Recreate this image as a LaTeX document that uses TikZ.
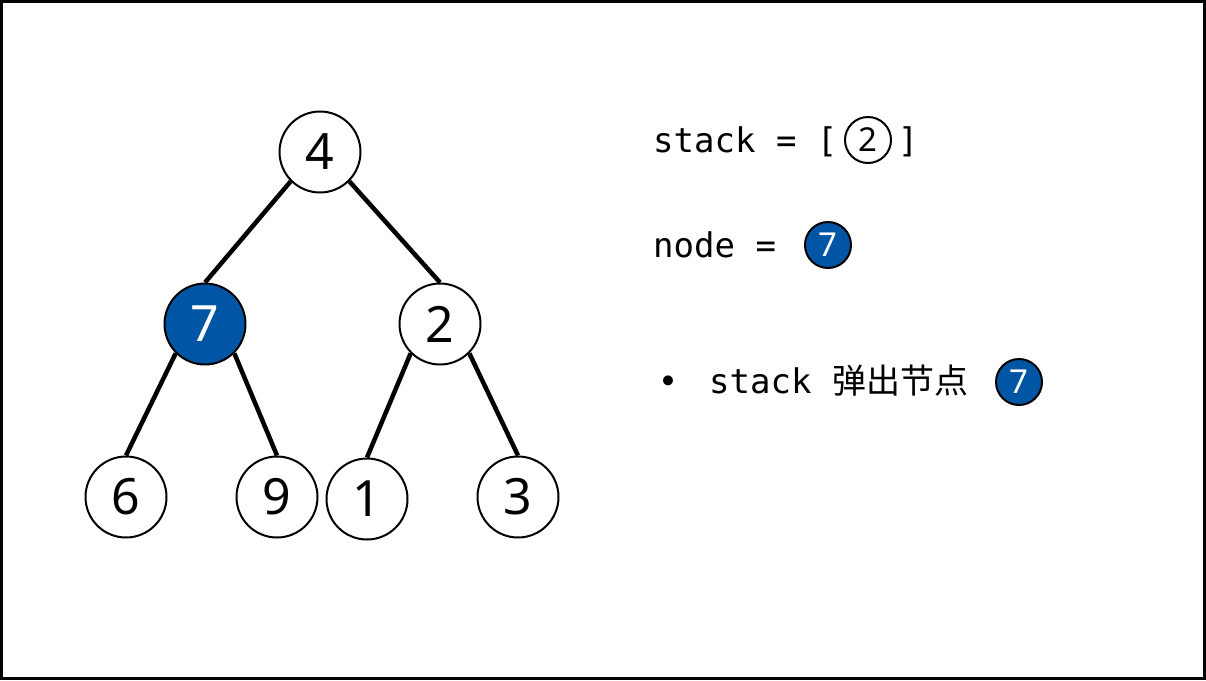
\documentclass[tikz,border=0pt]{standalone}
\usepackage{fontspec}
\setmainfont{Noto Sans}
\setmonofont{DejaVu Sans Mono}
\newfontfamily\cjk{Noto Sans CJK SC}
\definecolor{nodeblue}{RGB}{0,85,165}
\tikzset{
  tnode/.style={circle,draw=black,line width=2pt,fill=white,minimum size=81pt,inner sep=0pt,font=\fontsize{50}{50}\selectfont},
  hnode/.style={tnode,fill=nodeblue,text=white},
  snode/.style={circle,draw=black,line width=2pt,fill=white,minimum size=46pt,inner sep=0pt,font=\fontsize{33}{33}\selectfont},
  shnode/.style={snode,fill=nodeblue,text=white},
  edge/.style={line width=4.5pt},
  mono/.style={inner sep=0pt,font=\fontsize{34}{34}\ttfamily},
}
\begin{document}
\begin{tikzpicture}[x=1pt,y=-1pt]
\useasboundingbox (0,0) rectangle (1206,680);
\draw[line width=3pt] (1.5,1.5) rectangle (1204.5,678.5);
% tree
\node[tnode] (n4) at (320,152) {4};
\node[hnode] (n7) at (205,324) {7};
\node[tnode] (n2) at (440,324) {2};
\node[tnode] (n6) at (126,497) {6};
\node[tnode] (n9) at (277,497) {9};
\node[tnode] (n1) at (367,499) {1};
\node[tnode] (n3) at (518,497) {3};
\draw[edge] (n4.south west) -- (n7.north);
\draw[edge] (n4.south east) -- (n2.north);
\draw[edge] (n7.south west) -- (n6.north);
\draw[edge] (n7.south east) -- (n9.north);
\draw[edge] (n2.south west) -- (n1.north);
\draw[edge] (n2.south east) -- (n3.north);
% right side text
\node[mono,anchor=base west] (t1) at (653,152) {stack = [};
\node[snode] (s2) at (868,140) {2};
\node[mono,anchor=base] (t1b) at (908,152) {]};
\node[mono,anchor=base west] (t2) at (653,257) {node =};
\node[shnode] (s7) at (828,245) {7};
\node[mono,anchor=base] (b) at (668,393) {•};
\node[mono,anchor=base west] (t3) at (709,393) {stack \cjk 弹出节点};
\node[shnode] (s7b) at (1019,382) {7};
\end{tikzpicture}
\end{document}
